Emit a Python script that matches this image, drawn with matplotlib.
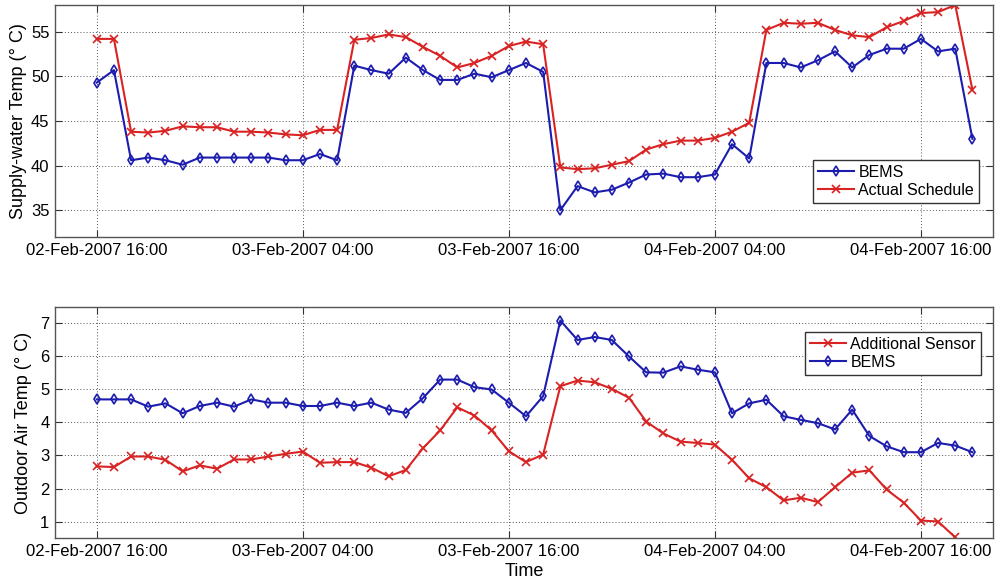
import numpy as np
import pandas as pd
import matplotlib
matplotlib.use("Agg")
import matplotlib.pyplot as plt
import matplotlib.dates as mdates

plt.rcParams["font.family"] = ["Liberation Sans", "DejaVu Sans"]
plt.rcParams["font.size"] = 12

# hourly samples, 02-Feb-2007 16:00 .. 04-Feb-2007 19:00
times = pd.date_range("2007-02-02 16:00", periods=52, freq="h")

supply_bems = [
  49.3, 50.7, 40.6, 40.9, 40.6, 40.1, 40.9, 40.9, 40.9, 40.9, 40.9, 40.6, 40.6,
  41.3, 40.6, 51.2, 50.7, 50.3, 52.1, 50.7, 49.6, 49.6, 50.3, 49.9, 50.7, 51.5,
  50.5, 35.0, 37.7, 37.0, 37.3, 38.1, 39.0, 39.1, 38.7, 38.7, 39.0, 42.4, 40.8,
  51.5, 51.5, 51.0, 51.8, 52.8, 51.0, 52.4, 53.1, 53.1, 54.2, 52.8, 53.1, 43.0,
]
supply_actual = [
  54.2, 54.2, 43.8, 43.7, 43.9, 44.4, 44.3, 44.3, 43.8, 43.8, 43.7, 43.5, 43.4,
  44.0, 44.0, 54.1, 54.3, 54.7, 54.4, 53.3, 52.3, 51.0, 51.5, 52.3, 53.4, 53.9,
  53.6, 39.8, 39.6, 39.7, 40.1, 40.5, 41.8, 42.4, 42.8, 42.8, 43.1, 43.8, 44.8,
  55.2, 56.0, 55.9, 56.0, 55.2, 54.6, 54.4, 55.5, 56.2, 57.1, 57.2, 58.0, 48.5,
]

outdoor_sensor = [
  2.67, 2.65, 2.97, 2.97, 2.87, 2.52, 2.70, 2.60, 2.88, 2.88, 2.97, 3.05, 3.12,
  2.78, 2.80, 2.80, 2.63, 2.37, 2.56, 3.22, 3.76, 4.46, 4.21, 3.76, 3.13, 2.80,
  3.03, 5.10, 5.27, 5.22, 5.02, 4.75, 4.03, 3.67, 3.42, 3.38, 3.33, 2.87, 2.31,
  2.04, 1.64, 1.72, 1.59, 2.04, 2.48, 2.55, 1.97, 1.57, 1.03, 1.00, 0.52, np.nan,
]
outdoor_bems = [
  4.70, 4.70, 4.70, 4.48, 4.58, 4.28, 4.50, 4.60, 4.48, 4.70, 4.60, 4.60, 4.50,
  4.50, 4.60, 4.50, 4.60, 4.39, 4.29, 4.74, 5.30, 5.30, 5.07, 5.00, 4.60, 4.19,
  4.80, 7.09, 6.50, 6.59, 6.50, 6.00, 5.52, 5.51, 5.70, 5.60, 5.52, 4.28, 4.58,
  4.69, 4.19, 4.08, 3.98, 3.79, 4.39, 3.59, 3.28, 3.10, 3.10, 3.38, 3.30, 3.10,
]

BLUE = "#1c1cae"
RED = "#d92222"


def _style(ax, ylim, yticks):
  """
  MATLAB-ish axes look.
  """
  t0 = times[0]
  ax.set_xlim(t0 - pd.Timedelta(hours=2.43), t0 + pd.Timedelta(hours=52.2))
  ax.set_ylim(*ylim)
  ax.set_yticks(yticks)
  ax.xaxis.set_major_locator(mdates.HourLocator(byhour=[4, 16]))
  ax.xaxis.set_major_formatter(mdates.DateFormatter("%d-%b-%Y %H:%M"))
  ax.tick_params(direction="in", top=True, right=True, length=5, pad=4,
                 colors="#333333", labelcolor="black", labelsize=12)
  ax.grid(True, linestyle=(0, (1, 2.2)), color="#555555", linewidth=0.7)
  for s in ax.spines.values():
    s.set_color("#555555")
    s.set_linewidth(1.0)


def _legend(ax, loc, anchor):
  leg = ax.legend(loc=loc, bbox_to_anchor=anchor, fontsize=11.5,
                  fancybox=False, edgecolor="#333333", framealpha=1,
                  handlelength=2.3, borderpad=0.3, labelspacing=0.2,
                  handletextpad=0.25, borderaxespad=0)
  leg.get_frame().set_linewidth(1.0)


def main():
  fig = plt.figure(figsize=(9.97, 5.79), dpi=100)
  ax1 = fig.add_axes([0.0552, 0.5907, 0.9408, 0.4007])
  ax2 = fig.add_axes([0.0552, 0.0708, 0.9408, 0.3990])

  ax1.plot(times, supply_bems, "-d", color=BLUE, lw=1.5, ms=5,
           mfc="none", mew=1.2, label="BEMS")
  ax1.plot(times, supply_actual, "-x", color=RED, lw=1.5, ms=6,
           mew=1.2, label="Actual Schedule")
  _style(ax1, (32, 58), [35, 40, 45, 50, 55])
  ax1.set_ylabel("Supply-water Temp (° C)", fontsize=13, labelpad=3)
  _legend(ax1, "lower right", (0.985, 0.147))

  ax2.plot(times, outdoor_sensor, "-x", color=RED, lw=1.5, ms=6,
           mew=1.2, label="Additional Sensor")
  ax2.plot(times, outdoor_bems, "-d", color=BLUE, lw=1.5, ms=5,
           mfc="none", mew=1.2, label="BEMS")
  _style(ax2, (0.5, 7.5), [1, 2, 3, 4, 5, 6, 7])
  ax2.set_ylabel("Outdoor Air Temp (° C)", fontsize=13, labelpad=6)
  ax2.set_xlabel("Time", fontsize=13, labelpad=3)
  _legend(ax2, "upper right", (0.987, 0.892))

  fig.savefig("out.png", dpi=100)


if __name__ == "__main__":
  main()
